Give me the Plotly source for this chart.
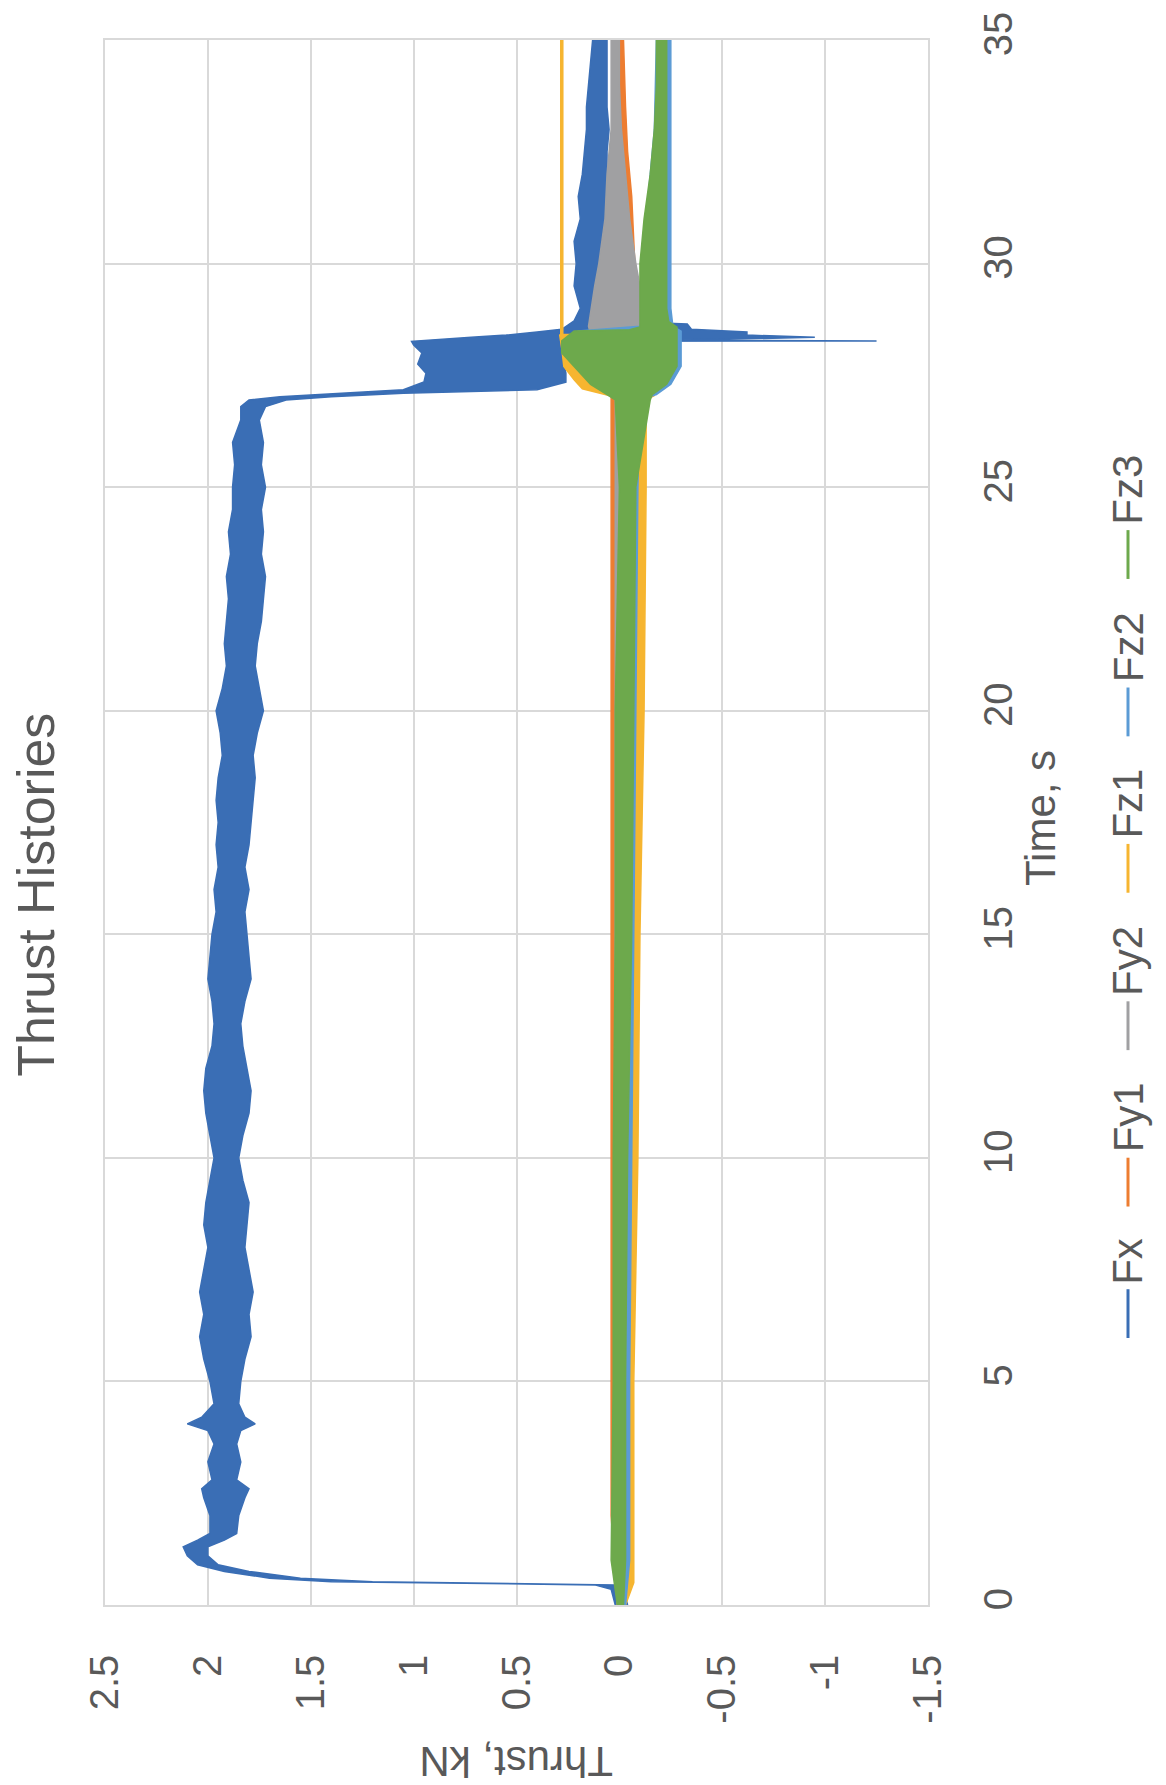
import plotly.graph_objects as go

# ---------------- data ----------------
# Thrust (kN) envelopes of the noisy records; time in seconds.
fx_t = [0.00, 0.35, 0.45, 0.52, 0.60, 0.75, 0.90, 1.10, 1.30, 1.45, 1.60, 2.0, 2.4, 2.6, 2.8, 3.2, 3.6,
        3.9, 4.05, 4.2, 4.5, 5.0, 5.5, 6.0, 6.5, 7.0, 7.5, 8.0, 8.5, 9.0, 9.5, 10.0, 10.5, 11.0, 11.5,
        12.0, 12.5, 13.0, 13.5, 14.0, 14.5, 15.0, 15.5, 16.0, 16.5, 17.0, 17.5, 18.0, 18.5, 19.0, 19.5,
        20.0, 20.5, 21.0, 21.5, 22.0, 22.5, 23.0, 23.5, 24.0, 24.5, 25.0, 25.5, 26.0, 26.5, 26.80,
        26.95, 27.02, 27.10, 27.18, 27.35, 27.55, 27.75, 28.0, 28.18, 28.26, 28.27, 28.29, 28.35, 28.40,
        28.47, 28.53, 28.65, 28.72, 29.0, 29.5, 30.0, 30.5, 31.0, 31.5, 32.0, 32.5, 33.0, 33.5, 34.0, 34.5, 35.0]
fx_lo = [-0.04, -0.02, 0.02, 1.20, 1.55, 1.80, 1.95, 2.00, 2.00, 1.92, 1.86, 1.85, 1.82, 1.80, 1.86, 1.84, 1.86,
         1.84, 1.77, 1.82, 1.85, 1.84, 1.82, 1.79, 1.80, 1.78, 1.80, 1.82, 1.81, 1.80, 1.83, 1.85, 1.83, 1.80, 1.79,
         1.81, 1.83, 1.84, 1.82, 1.79, 1.80, 1.81, 1.82, 1.80, 1.82, 1.80, 1.79, 1.78, 1.77, 1.78, 1.76,
         1.73, 1.75, 1.77, 1.76, 1.74, 1.73, 1.72, 1.74, 1.73, 1.74, 1.72, 1.74, 1.73, 1.75, 1.72,
         1.62, 1.40, 1.05, 0.40, 0.26, 0.26, 0.27, 0.26, 0.25, 0.25, -1.25, -0.30, -0.95, -0.62,
         -0.62, -0.35, -0.33, 0.08, 0.09, 0.06, 0.08, 0.07, 0.06, 0.06, 0.06, 0.06, 0.05, 0.06, 0.06, 0.06, 0.06]
fx_hi = [0.02, 0.04, 0.12, 1.40, 1.70, 1.92, 2.05, 2.10, 2.12, 2.05, 1.99, 1.99, 2.02, 2.03, 1.98, 2.00, 1.97,
         2.00, 2.10, 2.03, 1.97, 1.99, 2.02, 2.04, 2.02, 2.04, 2.02, 2.00, 2.02, 2.01, 1.99, 1.97, 1.99, 2.01, 2.02,
         2.01, 1.98, 1.97, 1.98, 2.00, 1.99, 1.98, 1.96, 1.97, 1.95, 1.96, 1.95, 1.96, 1.95, 1.93, 1.94,
         1.96, 1.93, 1.91, 1.92, 1.91, 1.90, 1.91, 1.89, 1.90, 1.88, 1.88, 1.87, 1.88, 1.84, 1.84,
         1.80, 1.65, 1.35, 1.05, 0.95, 0.94, 0.98, 0.96, 1.00, 1.01, 1.01, 0.95, 0.72, 0.55,
         0.40, 0.28, 0.24, 0.22, 0.19, 0.22, 0.21, 0.22, 0.19, 0.20, 0.18, 0.17, 0.16, 0.16, 0.15, 0.14, 0.13]

fy1_t = [0.0, 2.0, 5.0, 10.0, 15.0, 20.0, 25.0, 27.0, 27.3, 28.0, 28.5, 29.5, 30.5, 31.5, 32.5, 33.5, 35.0]
fy1_lo = [-0.02, -0.01, -0.01, -0.01, -0.01, -0.01, -0.01, -0.02, -0.10, -0.10, -0.10, -0.08, -0.07, -0.06, -0.04, -0.03, -0.02]
fy1_hi = [0.01, 0.04, 0.04, 0.04, 0.04, 0.04, 0.04, 0.04, 0.05, 0.05, 0.05, 0.04, 0.03, 0.02, 0.02, 0.01, 0.01]

fy2_t = [0.0, 5.0, 10.0, 15.0, 20.0, 25.0, 27.0, 27.3, 28.0, 28.42, 28.6, 29.5, 30.0, 31.0, 32.0, 33.0, 34.0, 35.0]
fy2_lo = [-0.02, -0.02, -0.02, -0.02, -0.02, -0.02, -0.02, -0.10, -0.12, -0.12, -0.10, -0.10, -0.08, -0.05, -0.03, -0.01, 0.00, 0.00]
fy2_hi = [0.01, 0.02, 0.02, 0.02, 0.02, 0.02, 0.02, 0.10, 0.14, 0.14, 0.15, 0.12, 0.10, 0.07, 0.06, 0.04, 0.04, 0.04]

fz1_t = [0.0, 0.5, 1.0, 5.0, 10.0, 15.0, 20.0, 25.0, 26.95, 27.05, 27.2, 27.4, 27.7, 28.1, 28.4, 28.42, 35.0]
fz1_lo = [-0.03, -0.07, -0.07, -0.07, -0.09, -0.10, -0.12, -0.13, -0.13, -0.17, -0.10, -0.05, -0.05, -0.05, 0.00, 0.275, 0.275]
fz1_hi = [0.00, -0.03, -0.03, -0.03, -0.04, -0.05, -0.06, -0.06, -0.06, 0.05, 0.18, 0.22, 0.27, 0.28, 0.29, 0.285, 0.285]

fz2_t = [0.0, 1.0, 5.0, 10.0, 15.0, 20.0, 25.0, 26.95, 27.07, 27.3, 27.7, 28.27, 28.49, 28.6, 29.0, 31.0, 33.0, 35.0]
fz2_lo = [-0.03, -0.05, -0.05, -0.06, -0.07, -0.08, -0.09, -0.10, -0.18, -0.25, -0.30, -0.30, -0.30, -0.26, -0.25, -0.25, -0.25, -0.25]
fz2_hi = [0.00, 0.00, 0.00, -0.01, -0.01, -0.02, -0.02, -0.02, 0.04, 0.12, 0.20, 0.26, 0.20, -0.10, -0.11, -0.13, -0.17, -0.18]

fz3_t = [0.0, 1.0, 5.0, 10.0, 15.0, 20.0, 25.0, 26.95, 27.07, 27.30, 27.70, 28.0, 28.27, 28.49, 28.52, 28.58, 28.7,
         29.0, 30.0, 31.0, 32.0, 33.0, 34.0, 35.0]
fz3_lo = [-0.02, -0.03, -0.03, -0.04, -0.06, -0.07, -0.08, -0.15, -0.16, -0.23, -0.28, -0.28, -0.28, -0.28, -0.28, -0.28, -0.24,
          -0.23, -0.23, -0.23, -0.23, -0.23, -0.23, -0.23]
fz3_hi = [0.01, 0.04, 0.03, 0.03, 0.02, 0.02, 0.00, 0.02, 0.06, 0.14, 0.22, 0.28, 0.28, 0.22, -0.05, -0.10, -0.10,
          -0.10, -0.10, -0.12, -0.15, -0.17, -0.18, -0.18]

series_names = ["Fx", "Fy1", "Fy2", "Fz1", "Fz2", "Fz3"]
series_colors = ["#3A6EB5", "#ED7D31", "#A0A0A2", "#F6B530", "#5B9BD5", "#6DA94C"]

thrust_ticks = [2.5, 2, 1.5, 1, 0.5, 0, -0.5, -1, -1.5]
thrust_labels = ["2.5", "2", "1.5", "1", "0.5", "0", "-0.5", "-1", "-1.5"]
time_ticks = [0, 5, 10, 15, 20, 25, 30, 35]

title_text = "Thrust Histories"
time_title = "Time, s"
thrust_title = "Thrust, kN"

# ---------------- figure ----------------
W, H = 1166, 1785
L, R, T, B = 105, 928, 34, 1605
FONT = "Liberation Sans, Arial, sans-serif"
TXT = "#595959"
GRID = "#D9D9D9"


def px(x):
    return (x - L) / (R - L)


def py(y):
    return (B - y) / (B - T)


fig = go.Figure()
bands = [(fx_t, fx_lo, fx_hi), (fy1_t, fy1_lo, fy1_hi), (fy2_t, fy2_lo, fy2_hi),
         (fz1_t, fz1_lo, fz1_hi), (fz2_t, fz2_lo, fz2_hi), (fz3_t, fz3_lo, fz3_hi)]
for (tt, lo, hi), name, col in zip(bands, series_names, series_colors):
    fig.add_trace(go.Scatter(
        x=list(lo) + list(hi)[::-1],
        y=list(tt) + list(tt)[::-1],
        mode="lines", fill="toself", fillcolor=col,
        line=dict(color=col, width=1.5),
        name=name, showlegend=False, hoverinfo="skip"))

fig.update_layout(
    width=W, height=H,
    margin=dict(l=L, r=W - R, t=T, b=H - B),
    paper_bgcolor="white", plot_bgcolor="white",
    font=dict(family=FONT, color=TXT),
    showlegend=False,
)
fig.update_xaxes(
    range=[2.5, -1.5], tickvals=thrust_ticks, ticktext=thrust_labels,
    tickangle=-90, tickfont=dict(size=40, color=TXT, family=FONT),
    showgrid=True, gridcolor=GRID, gridwidth=1.5,
    showline=True, linecolor=GRID, linewidth=1.5, mirror=True,
    zeroline=False, ticks="", ticklabelstandoff=32,
)
fig.update_yaxes(
    range=[0, 35], tickvals=time_ticks, side="right",
    tickangle=-90, tickfont=dict(size=40, color=TXT, family=FONT),
    showgrid=True, gridcolor=GRID, gridwidth=1.5,
    showline=True, linecolor=GRID, linewidth=1.5, mirror=True,
    zeroline=False, ticks="", ticklabelstandoff=34,
)

annotations = [
    dict(text=title_text, x=px(36), y=py(892), textangle=-90, font=dict(size=52, color=TXT)),
    dict(text=time_title, x=px(1040), y=py(815), textangle=-90, font=dict(size=42, color=TXT)),
    dict(text=thrust_title, x=px(516), y=py(1762), textangle=180, font=dict(size=42, color=TXT)),
]
shapes = []
# rotated legend, stacked from bottom to top
leg_x = 1128
leg_start = 1337
leg_step = [0, 132, 289, 447, 604, 762]
for i, (name, col) in enumerate(zip(series_names, series_colors)):
    y0 = leg_start - leg_step[i]
    shapes.append(dict(type="line", xref="paper", yref="paper",
                       x0=px(leg_x), x1=px(leg_x), y0=py(y0), y1=py(y0 - 49),
                       line=dict(color=col, width=3)))
    tlen = 26 * len(name) - 3
    annotations.append(dict(text=name, x=px(leg_x), y=py(y0 - 52 - tlen / 2),
                            textangle=-90, font=dict(size=42, color=TXT)))

for a in annotations:
    a.update(xref="paper", yref="paper", showarrow=False, xanchor="center", yanchor="middle")
fig.update_layout(annotations=annotations, shapes=shapes)

fig.write_html("out.html")
